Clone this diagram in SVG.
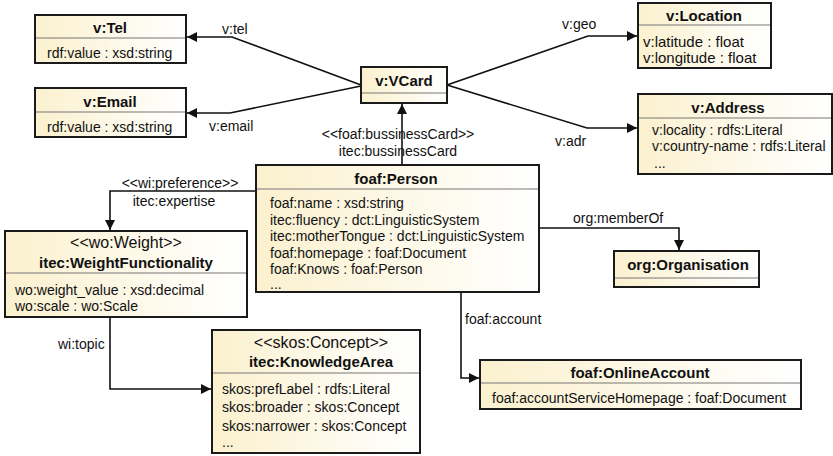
<svg xmlns="http://www.w3.org/2000/svg" width="833" height="456" viewBox="0 0 833 456">
<defs>
<linearGradient id="g" x1="0" y1="0" x2="1" y2="0">
<stop offset="0" stop-color="#fbf1cf"/>
<stop offset="1" stop-color="#ffffff"/>
</linearGradient>
<marker id="ah" viewBox="0 0 10 10" refX="10" refY="5" markerWidth="10" markerHeight="10" markerUnits="userSpaceOnUse" orient="auto">
<path d="M0,0 L10,5 L0,10 z" fill="#111"/>
</marker>
</defs>
<style>
.box{fill:url(#g);stroke:#1a1a1a;stroke-width:2}
.div{stroke:#777;stroke-width:1.2}
text{font-family:"Liberation Sans",Arial,sans-serif;fill:#111}
.t{font-size:15px;font-weight:bold;text-anchor:middle}
.st{font-size:16px;text-anchor:middle}
.a{font-size:14px}
.l{font-size:14px}
.c{fill:none;stroke:#111;stroke-width:1.6;marker-end:url(#ah)}
</style>

<g id="connectors">
<polyline class="c" points="361,85 232,37 187,37"/>
<polyline class="c" points="361,86 230,113 187,113"/>
<polyline class="c" points="447,85 588,36 637,36"/>
<polyline class="c" points="447,85 587,128 637,128"/>
<polyline class="c" points="402,165 402,104"/>
<polyline class="c" points="256,191 110,191 110,230"/>
<polyline class="c" points="539,228 679,228 679,250"/>
<polyline class="c" points="461,292 461,378 479,378"/>
<polyline class="c" points="110,317 110,389 211,389"/>
<text class="l" x="222" y="34">v:tel</text>
<text class="l" x="209" y="131">v:email</text>
<text class="l" x="562" y="29">v:geo</text>
<text class="l" x="555" y="146">v:adr</text>
<text class="l" x="398" y="139" text-anchor="middle">&lt;&lt;foaf:bussinessCard&gt;&gt;</text>
<text class="l" x="398" y="156" text-anchor="middle">itec:bussinessCard</text>
<text class="l" x="180" y="188" text-anchor="middle">&lt;&lt;wi:preference&gt;&gt;</text>
<text class="l" x="174" y="206" text-anchor="middle">itec:expertise</text>
<text class="l" x="573" y="223">org:memberOf</text>
<text class="l" x="465" y="324">foaf:account</text>
<text class="l" x="58" y="349">wi:topic</text>
</g>

<g id="v-tel">
<rect class="box" x="35" y="15" width="151" height="48"/>
<line class="div" x1="36" y1="38" x2="185" y2="38"/>
<text class="t" x="110" y="33">v:Tel</text>
<text class="a" x="47" y="58">rdf:value : xsd:string</text>
</g>

<g id="v-email">
<rect class="box" x="35" y="88" width="151" height="49"/>
<line class="div" x1="36" y1="112" x2="185" y2="112"/>
<text class="t" x="110" y="107">v:Email</text>
<text class="a" x="47" y="132">rdf:value : xsd:string</text>
</g>

<g id="v-vcard">
<rect class="box" x="361" y="67" width="86" height="36"/>
<line class="div" x1="362" y1="93" x2="446" y2="93"/>
<text class="t" x="404" y="86">v:VCard</text>
</g>

<g id="v-location">
<rect class="box" x="638" y="3" width="133" height="65"/>
<line class="div" x1="639" y1="25" x2="770" y2="25"/>
<text class="t" x="704" y="21">v:Location</text>
<text class="a" x="643" y="47" style="font-size:15px">v:latitude : float</text>
<text class="a" x="643" y="63" style="font-size:15px">v:longitude : float</text>
</g>

<g id="v-address">
<rect class="box" x="638" y="94" width="194" height="80"/>
<line class="div" x1="639" y1="118" x2="831" y2="118"/>
<text class="t" x="728" y="113">v:Address</text>
<text class="a" x="652" y="135">v:locality : rdfs:Literal</text>
<text class="a" x="652" y="151">v:country-name : rdfs:Literal</text>
<text class="a" x="654" y="168">...</text>
</g>

<g id="foaf-person">
<rect class="box" x="256" y="165" width="283" height="127"/>
<line class="div" x1="257" y1="189" x2="538" y2="189"/>
<text class="t" x="396" y="184">foaf:Person</text>
<text class="a" x="270" y="208">foaf:name : xsd:string</text>
<text class="a" x="270" y="225">itec:fluency : dct:LinguisticSystem</text>
<text class="a" x="270" y="241">itec:motherTongue : dct:LinguisticSystem</text>
<text class="a" x="270" y="258">foaf:homepage : foaf:Document</text>
<text class="a" x="270" y="274">foaf:Knows : foaf:Person</text>
<text class="a" x="270" y="289">...</text>
</g>

<g id="itec-weight">
<rect class="box" x="5" y="231" width="242" height="86"/>
<line class="div" x1="6" y1="273" x2="246" y2="273"/>
<text class="st" x="126" y="248">&lt;&lt;wo:Weight&gt;&gt;</text>
<text class="t" x="126" y="268">itec:WeightFunctionality</text>
<text class="a" x="15" y="295">wo:weight_value : xsd:decimal</text>
<text class="a" x="15" y="311">wo:scale : wo:Scale</text>
</g>

<g id="itec-knowledgearea">
<rect class="box" x="212" y="330" width="208" height="123"/>
<line class="div" x1="213" y1="373" x2="419" y2="373"/>
<text class="st" x="321" y="348">&lt;&lt;skos:Concept&gt;&gt;</text>
<text class="t" x="321" y="367">itec:KnowledgeArea</text>
<text class="a" x="222" y="394">skos:prefLabel : rdfs:Literal</text>
<text class="a" x="222" y="412">skos:broader : skos:Concept</text>
<text class="a" x="222" y="431">skos:narrower : skos:Concept</text>
<text class="a" x="222" y="447">...</text>
</g>

<g id="org-organisation">
<rect class="box" x="614" y="251" width="145" height="36"/>
<line class="div" x1="615" y1="278" x2="758" y2="278"/>
<text class="t" x="688" y="270">org:Organisation</text>
</g>

<g id="foaf-onlineaccount">
<rect class="box" x="480" y="360" width="321" height="49"/>
<line class="div" x1="481" y1="383" x2="800" y2="383"/>
<text class="t" x="640" y="378">foaf:OnlineAccount</text>
<text class="a" x="492" y="403">foaf:accountServiceHomepage : foaf:Document</text>
</g>
</svg>
